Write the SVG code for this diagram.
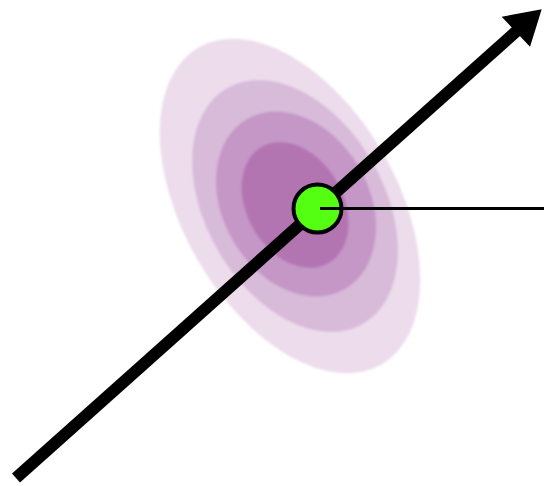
<svg xmlns="http://www.w3.org/2000/svg" width="544" height="486" viewBox="0 0 544 486">
<defs>
<filter id="soft" x="-10%" y="-10%" width="120%" height="120%"><feGaussianBlur stdDeviation="0.8"/></filter>
</defs>
<style>
.e{filter:url(#soft)}
</style>
<rect width="544" height="486" fill="#ffffff"/>
<g id="distribution">
<ellipse class="e" cx="290" cy="206" rx="183" ry="107" transform="rotate(60 290 206)" fill="#ecdcec"/>
<ellipse class="e" cx="295" cy="206" rx="136" ry="89" transform="rotate(60 295 206)" fill="#d8bad9"/>
<ellipse class="e" cx="296" cy="204" rx="98" ry="73" transform="rotate(60 296 204)" fill="#c497c6"/>
<ellipse class="e" cx="295" cy="205" rx="67" ry="48" transform="rotate(60 295 205)" fill="#b374b2"/>
</g>
<g id="connectors">
<line x1="16" y1="478" x2="520" y2="28" stroke="#000" stroke-width="12"/>
<polygon points="541.7,9.3 501.7,16.7 530,46.7" fill="#000"/>
</g>
<g id="point">
<circle cx="317.5" cy="208.5" r="24" fill="#55ff11" stroke="#000" stroke-width="4"/>
</g>
<g id="projection">
<line x1="320" y1="208.5" x2="544" y2="208.5" stroke="#000" stroke-width="3.2"/>
</g>
</svg>
